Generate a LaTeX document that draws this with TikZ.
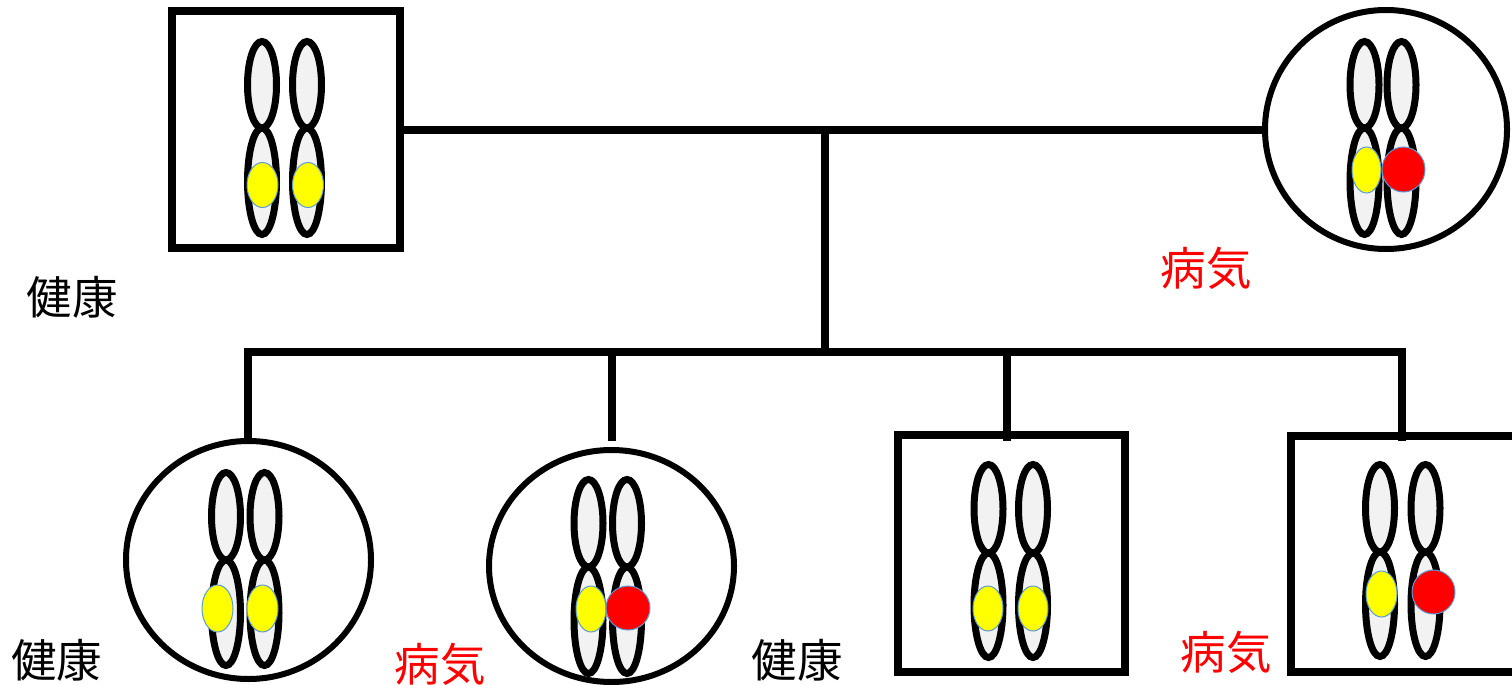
\documentclass[tikz,border=0pt]{standalone}
\usepackage{fontspec}
\usetikzlibrary{shapes.geometric}
\newfontfamily\jpfont{Noto Sans CJK JP}
\definecolor{chromfill}{HTML}{F2F2F2}
\definecolor{dotedge}{HTML}{5B9BD5}
\definecolor{healthy}{HTML}{FFFF00}
\definecolor{ill}{HTML}{FF0000}

% two chromatids: x of each, outer top, waist, outer bottom
\newcommand\chromopair[5]{%
  \pgfmathsetmacro\ctop{#3+3.5}%
  \pgfmathsetmacro\cbot{#5-3.5}%
  \pgfmathsetmacro\umid{(\ctop+#4)/2}%
  \pgfmathsetmacro\urad{(#4-\ctop)/2}%
  \pgfmathsetmacro\lmid{(#4+\cbot)/2}%
  \pgfmathsetmacro\lrad{(\cbot-#4)/2}%
  \foreach \cx in {#1,#2}{%
    \draw[chromatid] (\cx,\umid) ellipse [x radius=14.5pt, y radius=\urad pt];
    \draw[chromatid] (\cx,\lmid) ellipse [x radius=14.5pt, y radius=\lrad pt];
  }%
}
% allele dot: x, y, x radius, y radius, colour
\newcommand\allele[5]{%
  \fill[#5, draw=dotedge, line width=1pt] (#1,#2) ellipse [x radius=#3pt, y radius=#4pt];
}

\begin{document}
\begin{tikzpicture}[x=1pt,y=-1pt,
  pedline/.style={line width=8pt},
  malebox/.style={draw, rectangle, line width=7.5pt, inner sep=0pt},
  femalering/.style={draw, ellipse, line width=6pt, inner sep=0pt},
  chromatid/.style={draw, fill=chromfill, line width=7pt},
  label/.style={inner sep=0pt, font=\jpfont\fontsize{45.5}{50}\selectfont}]
\useasboundingbox (0,0) rectangle (1512,685);

% parents
\node[malebox, minimum width=228pt, minimum height=237pt] (father) at (286,129.5) {};
\node[femalering, minimum width=242pt, minimum height=239pt] (mother) at (1386,129.5) {};

% children
\node[femalering, minimum width=245pt, minimum height=238pt] (child1) at (248.5,560) {};
\node[femalering, minimum width=245pt, minimum height=232pt] (child2) at (611.5,566) {};
\node[malebox, minimum width=227pt, minimum height=237pt] (child3) at (1011.5,553.5) {};
\node[malebox, minimum width=227pt, minimum height=236pt] (child4) at (1404.5,554) {};

% pedigree lines
\coordinate (mate) at (825,129.5);
\coordinate (sibs) at (825,352);
\coordinate (sibl) at (248,352);
\coordinate (sibr) at (1402,352);
\coordinate (s1) at (248,352);  \coordinate (e1) at (248,441);
\coordinate (s2) at (612,352);  \coordinate (e2) at (612,441);
\coordinate (s3) at (1007,352); \coordinate (e3) at (1007,441);
\coordinate (s4) at (1402,352); \coordinate (e4) at (1402,441);

\draw[pedline] (father.east) -- (mother.west);
\draw[pedline] (mate) -- (sibs);
\draw[pedline, line cap=rect] (sibl) -- (sibr);
\foreach \i in {1,...,4} \draw[pedline] (s\i) -- (e\i);

% chromosomes
\chromopair{262}{307}{38}{128}{238}
\allele{262.5}{185}{15.5}{22.5}{healthy}
\allele{308}{185}{15.5}{22.5}{healthy}

\chromopair{1364.5}{1401.5}{38}{128}{238}
\allele{1366.5}{170}{14.5}{23}{healthy}
\allele{1403.5}{169.5}{21.5}{22.5}{ill}

\chromopair{226}{264.5}{469}{560}{669}
\allele{217.5}{608.5}{15.5}{23.5}{healthy}
\allele{262.5}{608.5}{15.5}{23.5}{healthy}

\chromopair{588.5}{627}{476}{567}{677}
\allele{591}{609}{15}{23}{healthy}
\allele{628}{608}{22}{22}{ill}

\chromopair{988.5}{1033}{461}{553}{661}
\allele{988}{608.5}{15}{22.5}{healthy}
\allele{1033}{608.5}{15}{22.5}{healthy}

\chromopair{1380}{1425.5}{461}{552}{660}
\allele{1381.5}{594}{15.5}{23}{healthy}
\allele{1433.5}{592}{21.5}{22}{ill}

% labels
\node[label] (lf) at (72,297) {健康};
\node[label, text=ill] (lm) at (1206,268) {病気};
\node[label] (l1) at (57,660) {健康};
\node[label, text=ill] (l2) at (440,664) {病気};
\node[label] (l3) at (797,660) {健康};
\node[label, text=ill] (l4) at (1226,652) {病気};
\end{tikzpicture}
\end{document}
